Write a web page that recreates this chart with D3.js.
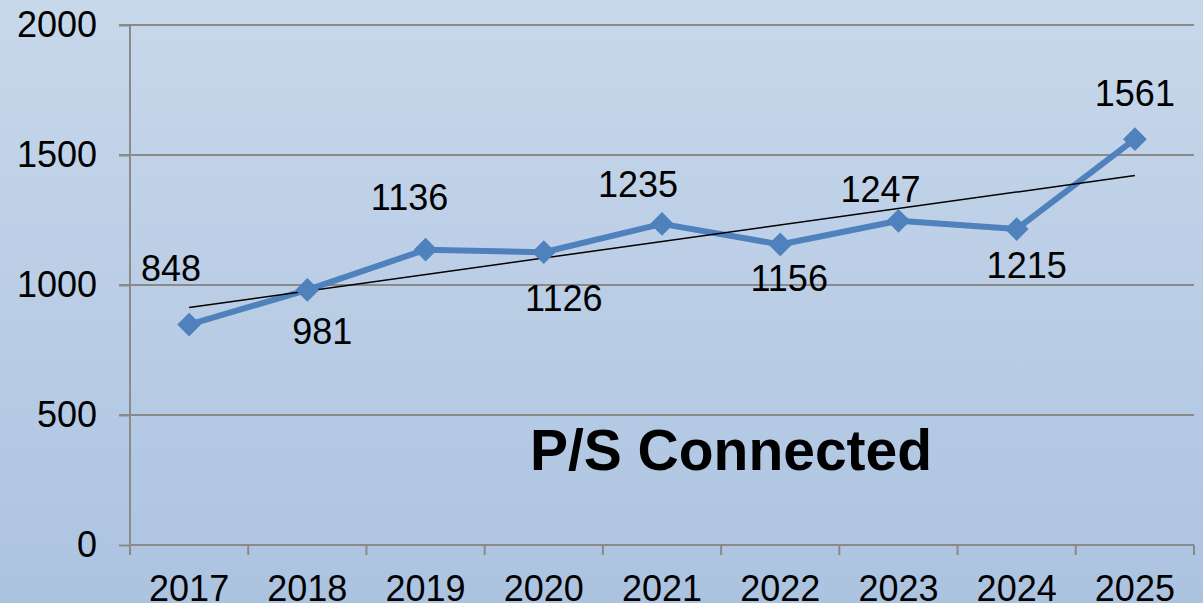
<!DOCTYPE html>
<html>
<head>
<meta charset="utf-8">
<script src="https://cdn.jsdelivr.net/npm/d3@7"></script>
<style>
  html, body { margin: 0; padding: 0; overflow: hidden; }
  text { font-family: "Liberation Sans", Arial, sans-serif; fill: #000; }
</style>
</head>
<body>
<div id="chart"></div>
<script>
// Data
var years       =   ["2017", "2018", "2019", "2020", "2021", "2022", "2023", "2024", "2025"];
var connected   =   [848, 981, 1136, 1126, 1235, 1156, 1247, 1215, 1561];
var y_ticks     =   [0, 500, 1000, 1500, 2000];
// label nudges (dx, dy from marker to text baseline)
var label_dx    =   [-18, 15, -16, 20, -24, 9, -18, 10, 0];
var label_dy    =   [-44, 54, -40, 59, -27, 47, -19, 49, -33];

var chart_width     =   1203;
var chart_height    =   603;
var left            =   130;
var right           =   1194;
var top_y           =   25;
var bottom_y        =   545;

// Create SVG
var svg             =   d3.select("#chart")
    .append("svg")
    .attr("width", chart_width)
    .attr("height", chart_height);

var grad = svg.append("defs").append("linearGradient")
    .attr("id", "bg")
    .attr("x1", 0).attr("y1", 0).attr("x2", 0).attr("y2", 1);
grad.append("stop").attr("offset", "0%").attr("stop-color", "#c8d8eb");
grad.append("stop").attr("offset", "100%").attr("stop-color", "#acc3e0");

svg.append("rect")
    .attr("width", chart_width)
    .attr("height", chart_height)
    .attr("fill", "url(#bg)");

// Scales
var x_scale         =   d3.scaleBand()
    .domain(years)
    .range([left, right]);
var y_scale         =   d3.scaleLinear()
    .domain([0, 2000])
    .range([bottom_y, top_y]);

function cx(d, i) { return x_scale(years[i]) + x_scale.bandwidth() / 2; }

// Gridlines
svg.append("g")
    .selectAll("line")
    .data(y_ticks.filter(function(d) { return d > 0; }))
    .enter()
    .append("line")
    .attr("x1", left - 11)
    .attr("x2", right)
    .attr("y1", function(d) { return y_scale(d); })
    .attr("y2", function(d) { return y_scale(d); })
    .attr("stroke", "#8a8a8a")
    .attr("stroke-width", 2);

// Y axis
var y_axis          =   d3.axisLeft(y_scale)
    .tickValues(y_ticks)
    .tickFormat(d3.format("d"))
    .tickSize(11)
    .tickPadding(22);

var gy = svg.append("g")
    .attr("transform", "translate(" + left + ",0)")
    .call(y_axis);
gy.select(".domain").remove();
gy.append("line")
    .attr("x1", 0).attr("x2", 0)
    .attr("y1", top_y).attr("y2", bottom_y + 10)
    .attr("stroke", "#8a8a8a")
    .attr("stroke-width", 2);

// X axis
var x_axis          =   d3.axisBottom(x_scale)
    .tickSize(0)
    .tickPadding(30);

var gx = svg.append("g")
    .attr("transform", "translate(0," + bottom_y + ")")
    .call(x_axis);
gx.select(".domain").remove();
gx.append("line")
    .attr("x1", left).attr("x2", right)
    .attr("y1", 0).attr("y2", 0)
    .attr("stroke", "#8a8a8a")
    .attr("stroke-width", 2);
gx.selectAll(".sep")
    .data(years)
    .enter()
    .append("line")
    .attr("x1", function(d) { return x_scale(d) + x_scale.bandwidth(); })
    .attr("x2", function(d) { return x_scale(d) + x_scale.bandwidth(); })
    .attr("y1", 0).attr("y2", 10)
    .attr("stroke", "#8a8a8a")
    .attr("stroke-width", 2);

svg.selectAll(".tick line").attr("stroke", "#8a8a8a").attr("stroke-width", 2);
svg.selectAll(".tick text")
    .style("font-family", "'Liberation Sans', Arial, sans-serif")
    .style("font-size", "36px")
    .attr("fill", "#000");
gx.selectAll(".tick text").attr("dy", "0.71em");
gx.selectAll(".tick line").remove();

// Trend line (least squares)
var n = connected.length;
var mx = d3.mean(connected, function(d, i) { return i; });
var my = d3.mean(connected);
var sxy = d3.sum(connected, function(d, i) { return (i - mx) * (d - my); });
var sxx = d3.sum(connected, function(d, i) { return (i - mx) * (i - mx); });
var slope = sxy / sxx;
var icpt = my - slope * mx;

// Line
var line = d3.line()
    .x(cx)
    .y(function(d) { return y_scale(d); });

svg.append("path")
    .datum(connected)
    .attr("d", line)
    .attr("fill", "none")
    .attr("stroke", "#4f81bd")
    .attr("stroke-width", 6)
    .attr("stroke-linejoin", "round");

svg.append("line")
    .attr("x1", cx(null, 0))
    .attr("x2", cx(null, n - 1))
    .attr("y1", y_scale(icpt))
    .attr("y2", y_scale(icpt + slope * (n - 1)))
    .attr("stroke", "#000")
    .attr("stroke-width", 1.5);

// Markers
svg.append("g")
    .selectAll("path")
    .data(connected)
    .enter()
    .append("path")
    .attr("d", d3.symbol().type(d3.symbolDiamond2).size(360))
    .attr("transform", function(d, i) { return "translate(" + cx(d, i) + "," + y_scale(d) + ")"; })
    .attr("fill", "#4f81bd");

// Data labels
svg.append("g")
    .selectAll("text")
    .data(connected)
    .enter()
    .append("text")
    .attr("x", function(d, i) { return cx(d, i) + label_dx[i]; })
    .attr("y", function(d, i) { return y_scale(d) + label_dy[i]; })
    .attr("text-anchor", "middle")
    .style("font-size", "36px")
    .text(function(d) { return d; });

// Title
svg.append("text")
    .attr("x", 731)
    .attr("y", 470)
    .attr("text-anchor", "middle")
    .style("font-size", "57px")
    .style("font-weight", "bold")
    .text("P/S Connected");
</script>
</body>
</html>
